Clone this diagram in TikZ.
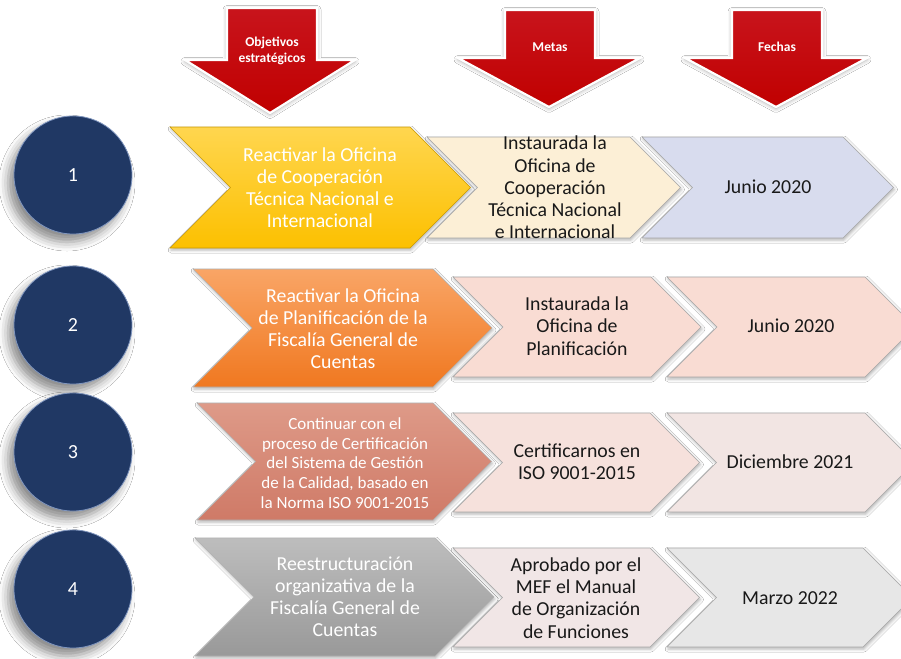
\documentclass[tikz,border=0pt]{standalone}
\usepackage{fontspec}
\setmainfont{Carlito}
\usetikzlibrary{shadows.blur}
\definecolor{navy}{HTML}{203864}
\definecolor{navyrim}{HTML}{7F95BE}
\definecolor{hred}{HTML}{C00000}
\definecolor{hredtop}{HTML}{C8141C}
\definecolor{yelT}{HTML}{FFD64F}
\definecolor{yelB}{HTML}{FCC000}
\definecolor{oraT}{HTML}{F9A566}
\definecolor{oraB}{HTML}{F07820}
\definecolor{terT}{HTML}{DE9A88}
\definecolor{terB}{HTML}{CF7A67}
\definecolor{gryT}{HTML}{BDBDBD}
\definecolor{gryB}{HTML}{999999}
\definecolor{cream}{HTML}{FCEFD6}
\definecolor{lav}{HTML}{D8DCEE}
\definecolor{pinkA}{HTML}{F9DCD3}
\definecolor{pinkB}{HTML}{F6E1DC}
\definecolor{pinkC}{HTML}{F2E5E3}
\definecolor{pinkD}{HTML}{F1E6E6}
\definecolor{lgray}{HTML}{E7E7E7}
\newcommand\chev[5]{%
  \path[#1] (#2,#3) -- (#4,#3) -- ({#4+(#5-#3)/2},{(#3+#5)/2}) -- (#4,#5) -- (#2,#5) -- ({#2+(#5-#3)/2},{(#3+#5)/2}) -- cycle;}
\newcommand\darrow[8]{%
  \path[#1] (#2,#4) -- (#3,#4) -- (#3,#5) -- (#7,#5) -- ({(#6+#7)/2},#8) -- (#6,#5) -- (#2,#5) -- cycle;}
\begin{document}
\begin{tikzpicture}[x=1pt,y=-1pt,
  hdrarrow/.style={top color=hredtop,bottom color=hred,draw=white,line width=2.2pt,line join=miter,
    blur shadow={shadow xshift=0pt,shadow yshift=-1.5pt,shadow blur radius=4pt,shadow opacity=35}},
  hdr/.style={text=white,font=\bfseries\fontsize{13.5}{16.5}\selectfont,align=center},
  numc/.style={circle,minimum size=118pt,inner sep=0pt,fill=navy,draw=navyrim,line width=0.8pt,
    text=white,font=\fontsize{20}{22}\selectfont,
    blur shadow={shadow xshift=-6pt,shadow yshift=-8pt,shadow blur radius=9pt,shadow opacity=45}},
  bigchev/.style={draw=black!30,line width=0.6pt,line join=miter,
    blur shadow={shadow xshift=1pt,shadow yshift=-2pt,shadow blur radius=3pt,shadow opacity=30}},
  smchev/.style={draw=black!35,line width=0.6pt,line join=miter,
    blur shadow={shadow xshift=1pt,shadow yshift=-2pt,shadow blur radius=3pt,shadow opacity=30}},
  bigtxt/.style={text=white,align=center,font=\fontsize{19.8}{22}\selectfont},
  smtxt/.style={text=black!90,align=center,font=\fontsize{19.8}{22.2}\selectfont}]
\useasboundingbox (0,0) rectangle (901,658);
\fill[white] (0,0) rectangle (901,658);

% header arrows
\darrow{hdrarrow}{227}{317}{8}{60}{185}{355}{113}
\darrow{hdrarrow}{505}{595}{10}{58}{458}{640}{107}
\darrow{hdrarrow}{732}{822}{10}{58}{685}{867}{107}
\node[hdr] (h1) at (272,51) {Objetivos\\estratégicos};
\node[hdr] (h2) at (550,47) {Metas};
\node[hdr] (h3) at (777,47) {Fechas};

% circles
\node[numc] (c1) at (73,175) {1};
\node[numc] (c2) at (73,325) {2};
\node[numc] (c3) at (73,452) {3};
\node[numc] (c4) at (73,589) {4};

% row 1
\chev{bigchev,top color=yelT,bottom color=yelB,draw=yelB!80!black}{170}{127}{410}{248}
\chev{smchev,fill=cream}{427}{137}{630}{238}
\chev{smchev,fill=lav}{642}{137}{843}{238}
\node[bigtxt] (o1) at (320,188) {Reactivar la Oficina\\de Cooperación\\Técnica Nacional e\\Internacional};
\node[smtxt] (m1) at (555,187.5) {Instaurada la\\Oficina de\\Cooperación\\Técnica Nacional\\e Internacional};
\node[smtxt] (f1) at (768,187) {Junio 2020};

% row 2
\chev{bigchev,top color=oraT,bottom color=oraB}{193}{269}{433}{387}
\chev{smchev,fill=pinkA}{453}{277}{651}{377}
\chev{smchev,fill=pinkA}{667}{277}{865}{377}
\node[bigtxt] (o2) at (343,329) {Reactivar la Oficina\\de Planificación de la\\Fiscalía General de\\Cuentas};
\node[smtxt] (m2) at (577,326) {Instaurada la\\Oficina de\\Planificación};
\node[smtxt] (f2) at (791,326) {Junio 2020};

% row 3
\chev{bigchev,top color=terT,bottom color=terB}{197}{403}{433}{520}
\chev{smchev,fill=pinkB}{453}{413}{650}{512}
\chev{smchev,fill=pinkC}{667}{413}{865}{512}
\node[bigtxt,font=\fontsize{17}{19.6}\selectfont] (o3) at (345,463) {Continuar con el\\proceso de Certificación\\del Sistema de Gestión\\de la Calidad, basado en\\la Norma ISO 9001-2015};
\node[smtxt] (m3) at (577,462) {Certificarnos en\\ISO 9001-2015};
\node[smtxt] (f3) at (790,462) {Diciembre 2021};

% row 4
\chev{bigchev,top color=gryT,bottom color=gryB}{195}{538}{435}{656}
\chev{smchev,fill=pinkD}{453}{548}{650}{647}
\chev{smchev,fill=lgray}{667}{548}{863}{647}
\node[bigtxt] (o4) at (345,597) {Reestructuración\\organizativa de la\\Fiscalía General de\\Cuentas};
\node[smtxt] (m4) at (576,598) {Aprobado por el\\MEF el Manual\\de Organización\\de Funciones};
\node[smtxt] (f4) at (790,598) {Marzo 2022};
\end{tikzpicture}
\end{document}
